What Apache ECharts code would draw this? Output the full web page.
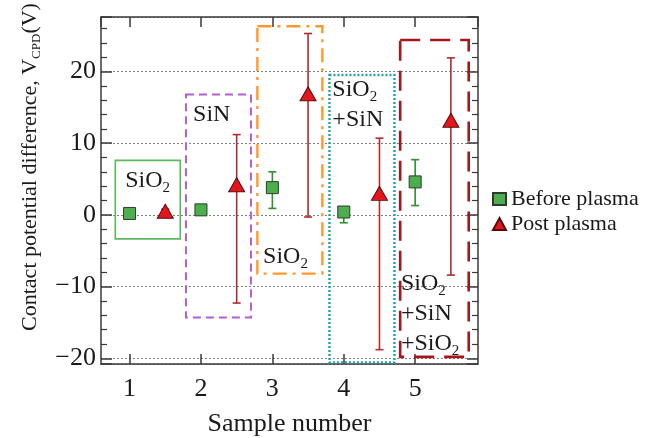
<!DOCTYPE html>
<html><head><meta charset="utf-8">
<script src="https://cdn.jsdelivr.net/npm/echarts@6/dist/echarts.min.js"></script>
<style>html,body{margin:0;padding:0;background:#fff}#c{width:650px;height:438px}</style>
</head><body><div id="c"></div>
<script>
// ---- data ----
const sampleTicks = [1, 2, 3, 4, 5];
const yTicks = [-20, -10, 0, 10, 20];
const beforeX = [1, 2, 3, 4, 5];
const beforeY = [0.2, 0.7, 3.8, 0.4, 4.6];
const beforeLow = [-0.1, 0.4, 0.9, -1.1, 1.3];
const beforeHigh = [0.5, 1.0, 6.0, 1.1, 7.7];
const postX = [1.5, 2.5, 3.5, 4.5, 5.5];
const postY = [0.5, 4.2, 16.9, 3.0, 13.2];
const postLow = [0.2, -12.3, -0.3, -18.8, -8.4];
const postHigh = [0.8, 11.2, 25.3, 10.7, 21.9];
const boxX0 = [0.80, 1.79, 2.79, 3.80, 4.79];
const boxX1 = [1.71, 2.70, 3.70, 4.71, 5.75];
const boxYLow = [-3.35, -14.3, -8.2, -20.6, -19.8];
const boxYHigh = [7.6, 16.8, 26.3, 19.5, 24.4];
const boxLabels = ['{m|SiO}{s|2}', '{m|SiN}', '{m|SiO}{s|2}', '{m|SiO}{s|2}\n{m|+SiN}', '{m|SiO}{s|2}\n{m|+SiN}\n{m|+SiO}{s|2}'];
const labelX = [0.94, 1.89, 2.87, 3.84, 4.80];
const labelY = [6.83, 16.0, -3.77, 19.5, -7.5];

// ---- styles ----
const FONT = '"Liberation Serif", "Times New Roman", serif';
const boxColors = ['#5cb85c', '#b45fcf', '#ff9a2a', '#20a3a3', '#a5161d'];
const boxWidths = [1.6, 2, 2.4, 2.4, 2.6];
const boxDash = [null, [8, 5], [14, 6, 3, 6], [2, 2], [20, 10]];
const labRich = {
  m: {fontFamily: FONT, fontSize: 24, lineHeight: 30, color: '#1a1a1a'},
  s: {fontFamily: FONT, fontSize: 15, lineHeight: 15, padding: [14, 0, 0, 0], color: '#1a1a1a'}
};
const frame = {show: true, onZero: false, lineStyle: {color: '#3a3a3a', width: 1.5}};

const chart = echarts.init(document.getElementById('c'), null, {renderer: 'canvas'});

function errRender(color) {
  return function (params, api) {
    const x = api.value(0);
    const a = api.coord([x, api.value(1)]);
    const b = api.coord([x, api.value(2)]);
    const hw = 4;
    const st = {stroke: color, lineWidth: 1.6};
    return {type: 'group', children: [
      {type: 'line', shape: {x1: a[0], y1: a[1], x2: b[0], y2: b[1]}, style: st},
      {type: 'line', shape: {x1: a[0] - hw, y1: a[1], x2: a[0] + hw, y2: a[1]}, style: st},
      {type: 'line', shape: {x1: b[0] - hw, y1: b[1], x2: b[0] + hw, y2: b[1]}, style: st}
    ]};
  };
}

const xMin = 0.6, xMax = 5.88, yMin = -20.8, yMax = 27.6;

const option = {
  animation: false,
  backgroundColor: '#fff',
  grid: {left: 101, right: 172, top: 17, bottom: 74, containLabel: false, outerBoundsMode: 'none'},
  xAxis: [{
    type: 'value', min: xMin, max: xMax, splitNumber: 5, position: 'bottom',
    name: 'Sample number', nameLocation: 'middle', nameGap: 47,
    nameTextStyle: {fontFamily: FONT, fontSize: 26, color: '#1a1a1a'},
    axisLine: frame,
    axisTick: {show: true, inside: true, length: 10, lineStyle: {color: '#3a3a3a', width: 1.5}},
    axisLabel: {fontFamily: FONT, fontSize: 26, color: '#1a1a1a', margin: 12, showMinLabel: false, showMaxLabel: false,
      formatter: v => sampleTicks.indexOf(Math.round(v * 1000) / 1000) >= 0 ? String(v) : ''},
    splitLine: {show: false}
  }, {
    type: 'value', min: xMin, max: xMax, splitNumber: 5, position: 'top',
    axisLine: frame,
    axisTick: {show: true, inside: true, length: 10, lineStyle: {color: '#3a3a3a', width: 1.5}},
    axisLabel: {show: false}, splitLine: {show: false}
  }],
  yAxis: [{
    type: 'value', min: yMin, max: yMax, splitNumber: 5, position: 'left',
    axisLine: frame,
    axisTick: {show: true, inside: true, length: 11, lineStyle: {color: '#3a3a3a', width: 1.5}},
    minorTick: {show: true, splitNumber: 5, length: 6, lineStyle: {color: '#3a3a3a', width: 1.2}},
    axisLabel: {fontFamily: FONT, fontSize: 26, color: '#1a1a1a', margin: 5, showMinLabel: false, showMaxLabel: false,
      formatter: v => yTicks.indexOf(Math.round(v * 1000) / 1000) >= 0 ? String(v).replace('-', '\u2212') : ''},
    splitLine: {show: true, lineStyle: {color: '#808080', type: [2, 2], width: 1}}
  }, {
    type: 'value', min: yMin, max: yMax, splitNumber: 5, position: 'right',
    axisLine: frame,
    axisTick: {show: true, inside: true, length: 11, lineStyle: {color: '#3a3a3a', width: 1.5}},
    minorTick: {show: true, splitNumber: 5, length: 6, lineStyle: {color: '#3a3a3a', width: 1.2}},
    axisLabel: {show: false}, splitLine: {show: false}
  }],
  legend: {
    orient: 'vertical', left: 487, top: 183, itemGap: 3, itemWidth: 13, itemHeight: 12,
    textStyle: {fontFamily: FONT, fontSize: 22, color: '#1a1a1a'},
    data: ['Before plasma', 'Post plasma']
  },
  graphic: [{
    type: 'text', x: 30, y: 167, rotation: Math.PI / 2,
    style: {
      text: '{m|Contact potential difference, V}{s|CPD}{m|(V)}',
      align: 'center', verticalAlign: 'middle', textAlign: 'center', textVerticalAlign: 'middle',
      rich: {
        m: {fontFamily: FONT, fontSize: 22, lineHeight: 26, fill: '#1a1a1a', color: '#1a1a1a'},
        s: {fontFamily: FONT, fontSize: 13, lineHeight: 13, padding: [14, 0, 0, 0], fill: '#1a1a1a', color: '#1a1a1a'}
      }
    }
  }],
  series: [
    {
      type: 'custom', name: 'boxes', silent: true, z: 2,
      data: boxX0.map((x, i) => [x, boxX1[i], boxYLow[i], boxYHigh[i]]),
      encode: {x: [0, 1], y: [2, 3]},
      renderItem: function (params, api) {
        const i = params.dataIndex;
        const p0 = api.coord([api.value(0), api.value(3)]);
        const p1 = api.coord([api.value(1), api.value(2)]);
        const st = {fill: null, stroke: boxColors[i], lineWidth: boxWidths[i]};
        if (boxDash[i]) st.lineDash = boxDash[i];
        return {type: 'rect', shape: {x: p0[0], y: p0[1], width: p1[0] - p0[0], height: p1[1] - p0[1]}, style: st};
      }
    },
    {
      type: 'custom', name: 'boxLabels', silent: true, z: 6,
      data: labelX.map((x, i) => [x, labelY[i]]),
      encode: {x: 0, y: 1},
      renderItem: function (params, api) {
        const i = params.dataIndex;
        const p = api.coord([api.value(0), api.value(1)]);
        const st = {text: boxLabels[i], rich: labRich, fill: '#1a1a1a', align: 'left', verticalAlign: 'top',
          font: '24px ' + FONT};
        return {type: 'text', x: p[0], y: p[1], style: st};
      }
    },
    {
      type: 'custom', name: 'errBefore', silent: true, z: 3,
      data: beforeX.map((x, i) => [x, beforeLow[i], beforeHigh[i]]),
      encode: {x: 0, y: [1, 2]},
      renderItem: errRender('#2f8f2f')
    },
    {
      type: 'custom', name: 'errPost', silent: true, z: 3,
      data: postX.map((x, i) => [x, postLow[i], postHigh[i]]),
      encode: {x: 0, y: [1, 2]},
      renderItem: errRender('#b02a2e')
    },
    {
      name: 'Before plasma', type: 'scatter', z: 5,
      data: beforeX.map((x, i) => [x, beforeY[i]]),
      symbol: 'rect', symbolSize: 12,
      itemStyle: {color: '#4cae4c', borderColor: '#2d3d2d', borderWidth: 1, opacity: 1}
    },
    {
      name: 'Post plasma', type: 'scatter', z: 5,
      data: postX.map((x, i) => [x, postY[i]]),
      symbol: 'triangle', symbolSize: [16, 14],
      itemStyle: {color: '#e3161d', borderColor: '#5a0c0c', borderWidth: 1, opacity: 1}
    }
  ]
};
chart.setOption(option);
</script>
</body></html>
